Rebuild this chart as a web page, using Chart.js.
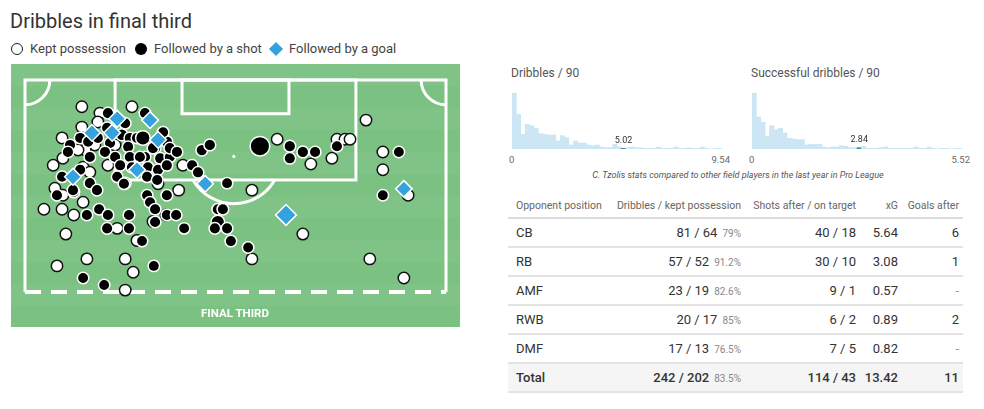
<!DOCTYPE html>
<html>
<head>
<meta charset="utf-8">
<script src="https://cdn.jsdelivr.net/npm/chart.js@4.4.0/dist/chart.umd.min.js"></script>
<style>
  body { margin: 0; width: 984px; height: 409px; background: #fff; font-family: Roboto, sans-serif; color: #333; position: relative; overflow: hidden; }
  .abs { position: absolute; }
  #title { left: 10px; top: 9px; font-size: 20px; line-height: 24px; color: #333; }
  .lg { top: 41px; font-size: 13px; line-height: 16px; color: #444; white-space: nowrap; }
  .mk { position: absolute; box-sizing: border-box; }
  #ft { left: 185px; top: 306px; width: 100px; text-align: center; color: #fff; font-weight: 700; font-size: 11.5px; line-height: 14px; }
  .htitle { top: 65px; font-size: 12px; line-height: 16px; color: #555; }
  .tick { top: 154px; font-size: 9.5px; line-height: 12px; color: #666; }
  #caption { left: 540px; width: 396px; top: 169px; text-align: center; font-size: 9px; font-style: italic; line-height: 12px; color: #555; }
  #table { left: 508px; top: 193px; width: 455px; }
  .row { display: flex; align-items: center; height: 27px; border-bottom: 2px solid #e4e4e4; font-size: 13px; color: #333; }
  .row.head { height: 24px; font-size: 10.5px; color: #666; border-bottom: 2px solid #dcdcdc; }
  .row.total { background: #f5f5f5; font-weight: 500; }
  .row > div { box-sizing: border-box; white-space: nowrap; }
  .c1 { width: 102px; padding-left: 8px; }
  .c2 { width: 135px; text-align: right; padding-right: 4px; }
  .c3 { width: 115px; text-align: right; padding-right: 4px; }
  .c4 { width: 42px; text-align: right; padding-right: 4px; }
  .c5 { width: 61px; text-align: right; padding-right: 4px; }
  .pct { font-size: 10px; color: #888; font-weight: 400; margin-left: 5px; }
  .dash { color: #999; }
</style>
</head>
<body>
<div id="title" class="abs">Dribbles in final third</div>

<div class="mk" style="left:11px;top:43px;width:12px;height:12px;border:1.5px solid #222;border-radius:50%;background:#fff"></div>
<div class="abs lg" style="left:30px">Kept possession</div>
<div class="mk" style="left:135px;top:43px;width:12px;height:12px;border-radius:50%;background:#000"></div>
<div class="abs lg" style="left:154px">Followed by a shot</div>
<div class="mk" style="left:271px;top:44px;width:10px;height:10px;background:#36a2dd;transform:rotate(45deg)"></div>
<div class="abs lg" style="left:289px">Followed by a goal</div>

<div class="abs" style="left:11px;top:64px"><canvas id="pitch" width="449" height="263"></canvas></div>
<div id="ft" class="abs">FINAL THIRD</div>

<div class="abs htitle" style="left:511px">Dribbles / 90</div>
<div class="abs htitle" style="left:751px">Successful dribbles / 90</div>
<div class="abs" style="left:512px;top:93px"><canvas id="hist1" width="210" height="56"></canvas></div>
<div class="abs" style="left:752px;top:93px"><canvas id="hist2" width="210" height="56"></canvas></div>
<div class="abs tick" style="left:509px">0</div>
<div class="abs tick" style="left:690px;width:40px;text-align:right">9.54</div>
<div class="abs tick" style="left:749px">0</div>
<div class="abs tick" style="left:930px;width:40px;text-align:right">5.52</div>
<div id="caption" class="abs">C. Tzolis stats compared to other field players in the last year in Pro League</div>

<div id="table" class="abs"></div>

<script>
// pitch coords (Wyscout style): across 0..100 left to right, along 66.7..100 up to the goal line
const keptPossession = [
  [13.5, 95.8], [25.4, 95.8], [17.8, 94.8], [17.3, 93.4], [13.5, 92.6], [8.8, 90.9], [16.6, 89.8], [21.4, 89.8], [14.3, 89.0], [9.0, 87.7],
  [6.7, 86.6], [19.7, 86.6], [13.8, 86.3], [36.5, 82.7], [9.0, 81.9], [13.8, 80.8], [37.5, 86.6], [53.9, 82.7], [59.9, 90.7], [67.9, 86.8],
  [72.9, 87.7], [74.1, 90.7], [76.0, 90.7], [77.2, 90.7], [81.0, 93.7], [85.0, 88.7], [85.0, 85.9], [91.0, 81.9], [4.5, 79.7], [8.8, 79.7],
  [11.6, 78.8], [21.9, 76.7], [9.7, 75.8], [26.6, 74.8], [30.4, 77.8], [33.5, 78.8], [31.6, 83.7], [7.6, 70.8], [14.7, 71.9], [23.8, 71.9],
  [25.7, 69.8], [23.8, 67.0], [53.9, 71.9], [66.0, 75.8], [81.9, 71.9], [90.0, 68.9], [7.1, 83.0], [12.6, 89.0], [15.4, 85.5]
];
// [across, along, xG of the shot]
const followedByShot = [
  [19.7, 94.8, .05], [23.8, 93.2, .05], [28.5, 94.8, .05], [19.5, 92.5, .05], [13.1, 90.9, .05], [15.0, 90.3, .05], [17.3, 90.9, .05], [20.2, 90.1, .05], [23.0, 91.4, .06], [24.9, 90.9, .05],
  [26.6, 90.9, .05], [28.0, 90.9, .2], [33.7, 90.3, .06], [10.7, 89.8, .05], [10.2, 88.7, .05], [15.4, 87.9, .05], [19.0, 88.7, .05], [21.4, 87.9, .05], [24.5, 89.5, .05], [24.9, 87.9, .05],
  [28.5, 87.9, .05], [30.9, 89.3, .06], [32.1, 87.7, .05], [34.4, 87.9, .05], [22.6, 86.6, .05], [25.4, 86.3, .05], [29.2, 86.3, .05], [31.6, 85.9, .05], [33.7, 86.6, .05], [8.8, 84.8, .05],
  [13.1, 85.9, .05], [15.4, 83.8, .05], [17.1, 82.7, .05], [21.9, 84.8, .05], [23.8, 83.8, .05], [29.0, 84.8, .05], [31.4, 84.3, .05], [29.0, 81.9, .05], [33.7, 81.9, .05], [7.6, 81.9, .05],
  [32.8, 91.8, .05], [30.4, 89.3, .05], [34.4, 89.3, .05], [36.1, 88.7, .05], [27.3, 87.9, .05], [42.0, 89.0, .06], [43.9, 89.8, .06], [39.7, 86.6, .05], [41.1, 85.5, .05], [48.0, 83.8, .04],
  [29.7, 80.8, .05], [55.8, 89.6, .45], [62.9, 89.6, .06], [62.9, 87.7, .05], [66.0, 88.7, .06], [68.9, 88.7, .05], [74.1, 89.6, .05], [88.8, 88.7, .04], [85.0, 81.9, .04], [11.6, 82.4, .05],
  [17.6, 79.7, .05], [14.7, 78.8, .05], [19.7, 78.8, .05], [24.7, 78.8, .05], [19.5, 76.7, .05], [24.7, 76.7, .05], [27.8, 74.7, .04], [30.9, 79.7, .05], [30.9, 77.7, .05], [33.7, 78.8, .05],
  [35.9, 78.8, .05], [37.8, 76.7, .04], [30.6, 70.8, .04], [13.8, 68.9, .04], [18.8, 67.8, .04], [45.8, 79.7, .05], [47.0, 79.7, .05], [45.8, 77.7, .15], [45.1, 76.7, .05], [48.0, 76.7, .05],
  [48.9, 74.7, .05], [53.0, 73.7, .04], [11.4, 82.7, .05], [23.5, 83.7, .05]
];
const followedByGoal = [
  [21.9, 93.9, .1], [29.7, 93.7, .1], [15.9, 91.7, .1], [20.7, 91.7, .1], [31.6, 90.6, .1],
  [26.6, 85.9, .1], [11.4, 84.8, .1], [42.8, 83.7, .08], [62.0, 78.8, .35], [90.0, 82.9, .08]
];

// league distribution, 48 bins each
const dribbleBins = [84, 52, 22, 37, 35, 31, 23, 22, 21, 21, 12, 20, 17, 6, 12, 9, 9, 6, 5, 6, 3, 2, 2, 7, 3, 1, 2, 3, 2, 2, 1, 1, 1, 3, 1, 1, 1, 3, 1, 1, 2, 1, 1, 3, 1, 0, 1, 1];
const successBins = [84, 48, 40, 19, 35, 29, 31, 24, 16, 15, 14, 14, 6, 7, 7, 7, 3, 2, 3, 3, 5, 4, 2, 2, 2, 4, 1, 1, 1, 2, 3, 1, 1, 1, 1, 1, 1, 3, 1, 1, 3, 1, 0, 1, 1, 0, 1, 1];
const dribbleMax = 9.54, dribblePlayer = 5.02;
const successMax = 5.52, successPlayer = 2.84;

const positions = ['CB', 'RB', 'AMF', 'RWB', 'DMF'];
const dribbles = [81, 57, 23, 20, 17];
const keptAfter = [64, 52, 19, 17, 13];
const shotsAfter = [40, 30, 9, 6, 7];
const onTarget = [18, 10, 1, 2, 5];
const xgAfter = [5.64, 3.08, 0.57, 0.89, 0.82];
const goalsAfter = [6, 1, 0, 2, 0];
const totals = [242, 202, 114, 43, 13.42, 11];

Chart.defaults.font.family = 'Roboto';

const pitchLines = {
  id: 'pitchLines',
  beforeDraw(chart) {
    const { ctx, scales: { x, y } } = chart;
    const px = v => x.getPixelForValue(v), py = v => y.getPixelForValue(v);
    ctx.save();
    ctx.fillStyle = '#7bc282';
    ctx.fillRect(0, 0, chart.width, chart.height);
    ctx.fillStyle = 'rgba(255,255,255,0.035)';
    for (let b = 0; b < chart.height; b += 44) ctx.fillRect(0, b, chart.width, 22);

    ctx.strokeStyle = '#fff';
    ctx.fillStyle = '#fff';
    ctx.lineWidth = 3;
    ctx.beginPath();
    ctx.moveTo(px(0), py(66.7));
    ctx.lineTo(px(0), py(100));
    ctx.lineTo(px(100), py(100));
    ctx.lineTo(px(100), py(66.7));
    ctx.stroke();

    ctx.strokeRect(px(21.4), py(100), px(78.6) - px(21.4), py(84.3) - py(100));
    ctx.strokeRect(px(37.3), py(100), px(62.7) - px(37.3), py(94.7) - py(100));

    const cr = px(5.9) - px(0);
    ctx.beginPath(); ctx.arc(px(0), py(100), cr, 0, Math.PI / 2); ctx.stroke();
    ctx.beginPath(); ctx.arc(px(100), py(100), cr, Math.PI / 2, Math.PI); ctx.stroke();

    const cx = px(49.6), cy = py(88.0), r = px(11.2) - px(0);
    ctx.beginPath(); ctx.arc(cx, cy, 1.6, 0, Math.PI * 2); ctx.fill();
    const a = Math.asin((py(84.3) - cy) / r);
    ctx.beginPath(); ctx.arc(cx, cy, r, a, Math.PI - a); ctx.stroke();

    ctx.lineWidth = 4;
    ctx.setLineDash([16, 10]);
    ctx.beginPath();
    ctx.moveTo(px(0), py(66.7));
    ctx.lineTo(px(100), py(66.7));
    ctx.stroke();
    ctx.restore();
  }
};

const toPoints = list => list.map(p => ({ x: p[0], y: p[1], xg: p[2] }));

new Chart(document.getElementById('pitch'), {
  type: 'scatter',
  data: {
    datasets: [
      {
        label: 'Followed by a goal',
        data: toPoints(followedByGoal),
        pointStyle: 'rectRot',
        backgroundColor: '#36a2dd',
        borderColor: '#fff',
        borderWidth: 1.5,
        pointRadius: c => 7.6 + 8 * c.raw.xg,
        clip: false
      },
      {
        label: 'Followed by a shot',
        data: toPoints(followedByShot),
        backgroundColor: '#000',
        borderColor: '#fff',
        borderWidth: 1.5,
        pointRadius: c => 5.3 + 10 * c.raw.xg,
        clip: false
      },
      {
        label: 'Kept possession',
        data: toPoints(keptPossession),
        backgroundColor: '#fff',
        borderColor: '#111',
        borderWidth: 1.5,
        pointRadius: 5.7,
        clip: false
      }
    ]
  },
  options: {
    responsive: false,
    animation: false,
    events: [],
    layout: { padding: { left: 14, right: 14, top: 16, bottom: 35 } },
    plugins: { legend: { display: false }, tooltip: { enabled: false } },
    scales: {
      x: { type: 'linear', min: 0, max: 100, display: false },
      y: { type: 'linear', min: 66.7, max: 100, display: false }
    }
  },
  plugins: [pitchLines]
});

function histogram(id, bins, maxVal, playerVal) {
  const hi = Math.min(bins.length - 1, Math.floor(playerVal / maxVal * bins.length));
  new Chart(document.getElementById(id), {
    type: 'bar',
    data: {
      labels: bins.map((_, i) => (i * maxVal / bins.length).toFixed(2)),
      datasets: [{
        data: bins,
        backgroundColor: bins.map((_, i) => i === hi ? '#3b8fa8' : '#cde6f4'),
        borderWidth: 0,
        barPercentage: 1,
        categoryPercentage: 1
      }]
    },
    options: {
      responsive: false,
      animation: false,
      events: [],
      layout: { padding: 0 },
      plugins: { legend: { display: false }, tooltip: { enabled: false } },
      scales: {
        x: { display: false },
        y: { display: false, min: 0, max: Math.max(...bins) }
      }
    },
    plugins: [{
      id: 'playerMark',
      afterDatasetsDraw(chart) {
        const bar = chart.getDatasetMeta(0).data[hi];
        const ctx = chart.ctx;
        ctx.save();
        ctx.fillStyle = '#333';
        ctx.font = '9px Roboto';
        ctx.textAlign = 'center';
        ctx.textBaseline = 'bottom';
        ctx.fillText(playerVal.toFixed(2), bar.x, bar.y - 3);
        ctx.restore();
      }
    }]
  });
}

histogram('hist1', dribbleBins, dribbleMax, dribblePlayer);
histogram('hist2', successBins, successMax, successPlayer);

function pct(kept, total) {
  return (kept / total * 100).toFixed(1).replace(/\.0$/, '') + '%';
}

function rowHtml(cls, cells) {
  return '<div class="row ' + cls + '">' + cells.map((c, i) => '<div class="c' + (i + 1) + '">' + c + '</div>').join('') + '</div>';
}

let html = rowHtml('head', ['Opponent position', 'Dribbles / kept possession', 'Shots after / on target', 'xG', 'Goals after']);
positions.forEach((p, i) => {
  html += rowHtml('', [
    p,
    dribbles[i] + ' / ' + keptAfter[i] + '<span class="pct">' + pct(keptAfter[i], dribbles[i]) + '</span>',
    shotsAfter[i] + ' / ' + onTarget[i],
    xgAfter[i].toFixed(2),
    goalsAfter[i] ? goalsAfter[i] : '<span class="dash">-</span>'
  ]);
});
html += rowHtml('total', [
  'Total',
  totals[0] + ' / ' + totals[1] + '<span class="pct">' + pct(totals[1], totals[0]) + '</span>',
  totals[2] + ' / ' + totals[3],
  totals[4].toFixed(2),
  totals[5]
]);
document.getElementById('table').innerHTML = html;
</script>
</body>
</html>
